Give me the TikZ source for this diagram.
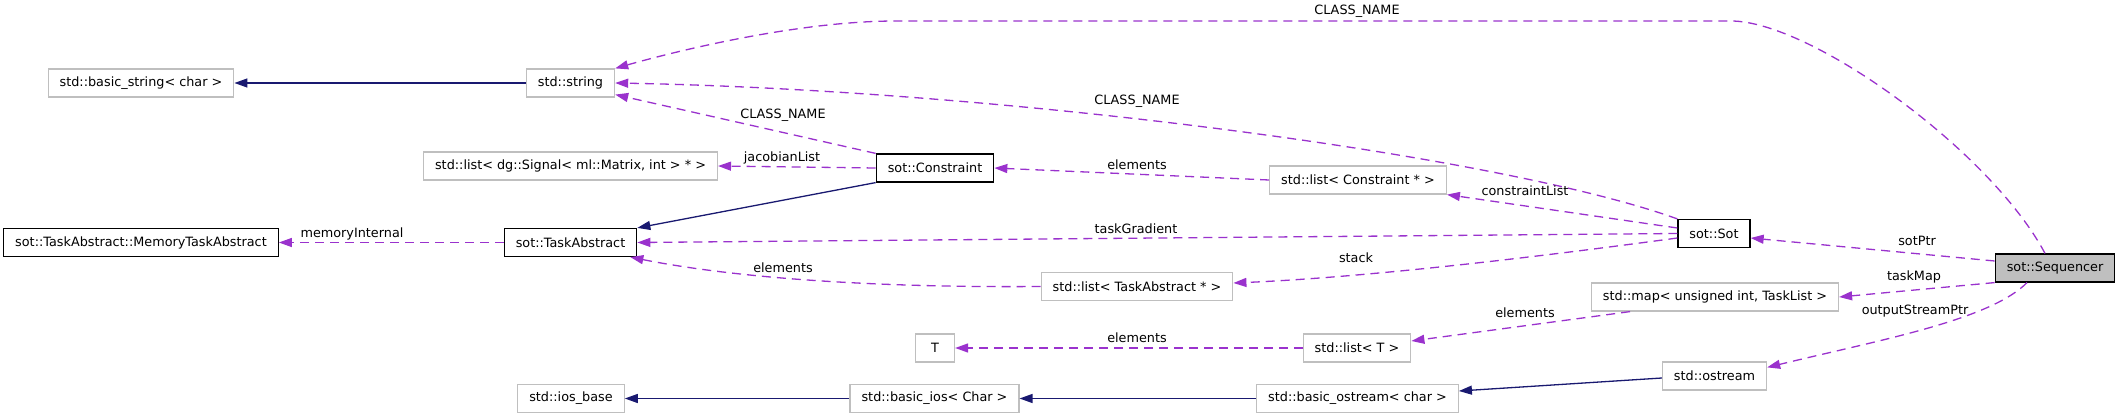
\documentclass[tikz,border=0pt]{standalone}
\usepackage{fontspec}
\setmainfont{DejaVu Sans}
\usetikzlibrary{arrows.meta}
\definecolor{orchid}{HTML}{9A32CD}
\definecolor{navy}{HTML}{191970}
\definecolor{grey75}{HTML}{BFBFBF}
\begin{document}
\begin{tikzpicture}[x=1pt,y=-1pt,font=\fontsize{12.8}{14}\selectfont,
  cls/.style={draw=black,line width=1.2pt,minimum height=28pt,inner xsep=11.5pt,inner ysep=0pt},
  ext/.style={cls,draw=grey75},
  use/.style={draw=orchid,line width=1.3pt,dash pattern=on 9pt off 6pt,-{Triangle[length=13pt,width=9pt]}},
  inh/.style={draw=navy,line width=1.3pt,-{Triangle[length=13pt,width=9pt]}},
  lbl/.style={inner sep=0pt}]
\useasboundingbox (0,0) rectangle (2120,417);
\node[ext] (bstr) at (141,83) {std::basic\_string< char >};
\node[ext] (str) at (570.5,83) {std::string};
\node[ext] (sig) at (570.5,166) {std::list< dg::Signal< ml::Matrix, int > * >};
\node[cls] (mem) at (141,242.5) {sot::TaskAbstract::MemoryTaskAbstract};
\node[cls] (ta) at (570.5,242.5) {sot::TaskAbstract};
\node[ext] (iosb) at (571,398.5) {std::ios\_base};
\node[cls] (con) at (935,168) {sot::Constraint};
\node[ext] (conl) at (1358,180) {std::list< Constraint * >};
\node[ext] (tal) at (1137,286.5) {std::list< TaskAbstract * >};
\node[ext,minimum width=39pt] (t) at (935,348) {T};
\node[ext] (tl) at (1357,348) {std::list< T >};
\node[ext] (bios) at (934.5,398.5) {std::basic\_ios< Char >};
\node[ext] (bost) at (1357.5,398.5) {std::basic\_ostream< char >};
\node[cls] (sot) at (1714,233.5) {sot::Sot};
\node[cls,fill=grey75] (seq) at (2055,268) {sot::Sequencer};
\node[ext] (tmap) at (1715,297) {std::map< unsigned int, TaskList >};
\node[ext] (ost) at (1714.5,376) {std::ostream};
\draw[inh] (str) -- (bstr);
\draw[use] ([xshift=-10pt]seq.north) .. controls (1990,150) and (1810,21) .. (1731,21) -- (896,21) .. controls (800,21) and (680,50) .. (str.north east);
\draw[use] (sot.north west) .. controls (1500,155) and (1000,90) .. (str.east);
\draw[use] (con.north west) -- ([yshift=3pt]str.south east);
\draw[use] (con.west) -- (sig.east);
\draw[inh] (con.south west) -- (ta.north east);
\draw[use] (conl.west) -- (con.east);
\draw[use] ([yshift=5.5pt]sot.west) -- (conl.south east);
\draw[use] (ta.west) -- (mem.east);
\draw[use] (sot.west) -- (ta.east);
\draw[use] (tal.west) .. controls (850,288) and (720,275) .. ([xshift=-7pt]ta.south east);
\draw[use] ([yshift=-4.5pt]sot.west) .. controls (1500,262) and (1350,278) .. ([yshift=3.5pt]tal.east);
\draw[use] ([yshift=7pt]seq.west) -- ([yshift=-4.5pt]sot.east);
\draw[use] (seq.south west) -- (tmap.east);
\draw[use] ([xshift=-28pt]seq.south) .. controls (1990,320) and (1880,340) .. ([yshift=-6pt]ost.north east);
\draw[use] ([xshift=-85pt]tmap.south) -- ([yshift=7pt]tl.east);
\draw[use] (tl.west) -- (t.east);
\draw[inh] ([yshift=-2pt]ost.west) -- ([yshift=7.5pt]bost.east);
\draw[inh] (bost) -- (bios);
\draw[inh] (bios) -- (iosb);
\node[lbl] (cname1) at (1357,11) {CLASS\_NAME};
\node[lbl] (cname2) at (1137,101) {CLASS\_NAME};
\node[lbl] (cname3) at (783,115) {CLASS\_NAME};
\node[lbl] (jac) at (782,158) {jacobianList};
\node[lbl] (elcon) at (1137,165) {elements};
\node[lbl] (clist) at (1525,191) {constraintList};
\node[lbl] (memint) at (352,234) {memoryInternal};
\node[lbl] (grad) at (1136,229) {taskGradient};
\node[lbl] (elta) at (783,268) {elements};
\node[lbl] (stack) at (1356,258) {stack};
\node[lbl] (sptr) at (1917,241) {sotPtr};
\node[lbl] (tmp) at (1914,277) {taskMap};
\node[lbl] (optr) at (1915,311) {outputStreamPtr};
\node[lbl] (elmap) at (1525,313) {elements};
\node[lbl] (elt) at (1137,338) {elements};
\end{tikzpicture}
\end{document}
